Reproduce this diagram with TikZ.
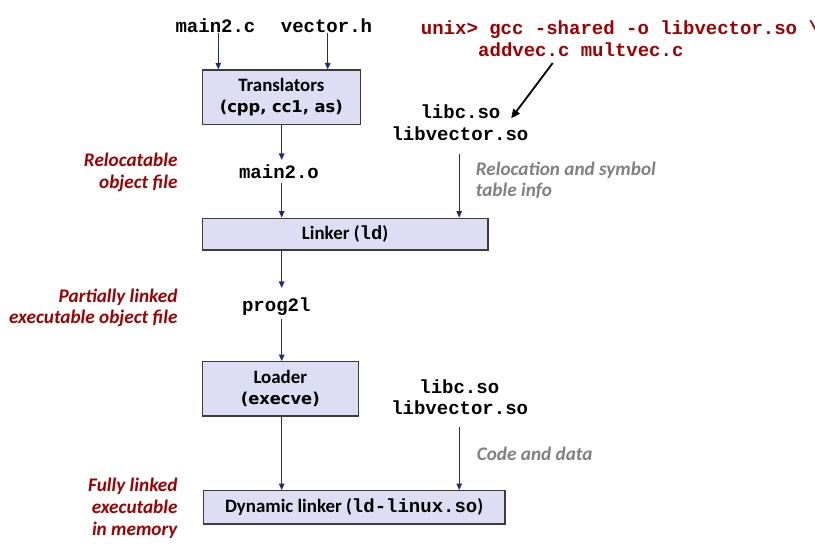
\documentclass[tikz,border=0pt]{standalone}
\usepackage{fontspec}
\setmainfont{Carlito}
\newfontfamily\monofont{Liberation Mono}
\newfontfamily\verdfont{DejaVu Sans}
\usetikzlibrary{arrows.meta,calc}
\definecolor{navy}{HTML}{1C2A80}
\definecolor{darkred}{HTML}{A00000}
\definecolor{lbgray}{HTML}{808080}
\definecolor{boxfill}{HTML}{DDDDF4}
\definecolor{boxline}{HTML}{3C3C3C}
\newcommand{\cd}[1]{{\monofont\bfseries\fontsize{19}{21}\selectfont #1}}
\newcommand{\vd}[1]{{\verdfont\bfseries\fontsize{16.3}{21}\selectfont #1}}
\tikzset{
  code/.style={font=\monofont\bfseries\fontsize{19}{22}\selectfont, inner sep=0pt, anchor=base},
  cmdtext/.style={code, text=darkred, anchor=base west},
  redlbl/.style={font=\bfseries\itshape\fontsize{19.2}{22}\selectfont, text=darkred, inner sep=0pt, anchor=base east},
  graylbl/.style={font=\bfseries\itshape\fontsize{19.2}{22}\selectfont, text=lbgray, inner sep=0pt, anchor=base west},
  box/.style={draw=boxline, line width=1.3pt, fill=boxfill, align=center, inner sep=0pt,
              font=\bfseries\fontsize{18.9}{21}\selectfont},
  arr/.style={draw=navy, line width=1.1pt, -{Triangle[length=6.5pt,width=5.5pt]}},
  blk/.style={draw=black, line width=1.8pt, -{Triangle[length=9pt,width=8pt]}}
}
\begin{document}
\begin{tikzpicture}[x=1pt,y=-1pt]
\useasboundingbox[fill=white] (0,0) rectangle (815,548);

% columns
\coordinate (colA) at (281.7,0);
\coordinate (colB) at (459.2,0);

% boxes
\node[box, minimum width=158pt, minimum height=54.3pt] (trans) at (281.3,97.2)
  {Translators\\\vd{(cpp, cc1, as)}};
\node[box, minimum width=285.7pt, minimum height=31.7pt] (linker) at (345.15,234.15)
  {Linker (\cd{ld})};
\node[box, minimum width=156pt, minimum height=54.3pt] (loader) at (280.3,388.85)
  {Loader\\\vd{(execve)}};
\node[box, minimum width=301.7pt, minimum height=33.3pt] (dyn) at (354.15,507.35)
  {Dynamic linker (\cd{ld-linux.so})};

% code texts
\node[code] (mainc) at (215.5,33) {main2.c};
\node[code] (vech) at (326.5,33) {vector.h};
\node[code] (main2o) at (279,178.3) {main2.o};
\node[code] (prog) at (276.3,311.7) {prog2l};
\node[code] (libc1) at (460.5,119) {libc.so};
\node[code] (libvec1) at (460,141) {libvector.so};
\node[code] (libc2) at (459.3,394) {libc.so};
\node[code] (libvec2) at (459.7,414) {libvector.so};
\node[cmdtext] (cmd1) at (420.7,35) {unix> gcc -shared -o libvector.so \textbackslash};
\node[cmdtext] (cmd2) at (478,57) {addvec.c multvec.c};

% red labels
\node[redlbl] (rel1) at (177.7,167) {Relocatable};
\node[redlbl] (rel2) at (177.7,189) {object file};
\node[redlbl] (par1) at (177.7,303) {Partially linked};
\node[redlbl] (par2) at (177.7,323.5) {executable object file};
\node[redlbl] (ful1) at (177.7,491) {Fully linked};
\node[redlbl] (ful2) at (177.7,513) {executable};
\node[redlbl] (ful3) at (177.7,535) {in memory};

% gray labels
\node[graylbl] (rs1) at (475.7,176) {Relocation and symbol};
\node[graylbl] (rs2) at (475.7,197) {table info};
\node[graylbl] (cad) at (476.7,460.7) {Code and data};

% connectors
\draw[arr] ([xshift=2.8pt]mainc.base) -- ([xshift=2.8pt]mainc.base |- trans.north);
\draw[arr] ([xshift=1.2pt]vech.base) -- ([xshift=1.2pt]vech.base |- trans.north);
\draw[arr] (trans.south -| colA) -- ($(main2o.base -| colA)+(0,-18.3)$);
\draw[arr] ($(main2o.base -| colA)+(0,4.7)$) -- (linker.north -| colA);
\draw[arr] ($(libvec1.base -| colB)+(0,13)$) -- (linker.north -| colB);
\draw[arr] (linker.south -| colA) -- ($(prog.base -| colA)+(0,-23.7)$);
\draw[arr] ($(prog.base -| colA)+(0,7.3)$) -- (loader.north -| colA);
\draw[arr] (loader.south -| colA) -- (dyn.north -| colA);
\draw[arr] ($(libvec2.base -| colB)+(0,13.3)$) -- (dyn.north -| colB);
\draw[blk] ($(cmd2.base west)+(74.7,6)$) -- ($(libc1.base east)+(10.6,-0.7)$);
\end{tikzpicture}
\end{document}
